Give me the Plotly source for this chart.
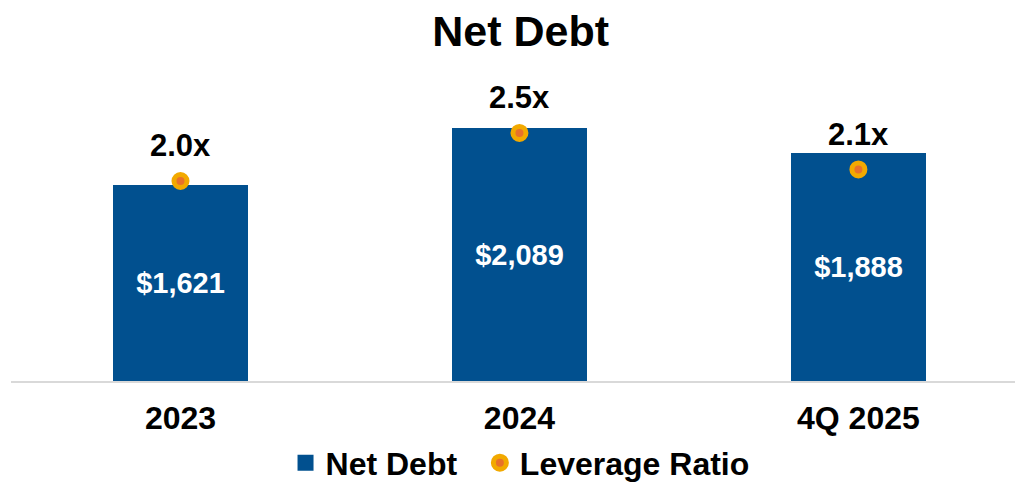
import plotly.graph_objects as go

# Net debt ($ millions) and leverage ratio by period
periods = ["2023", "2024", "4Q 2025"]
net_debt = [1621, 2089, 1888]
leverage = [2.0, 2.5, 2.12]
leverage_labels = ["2.0x", "2.5x", "2.1x"]

FONT = "Liberation Sans, Arial, sans-serif"
BAR_BLUE = "#01508F"
DOT_ORANGE = "#E8712A"
DOT_GOLD = "#F2A900"
NBSP = "\u00a0"

fig = go.Figure()

fig.add_trace(go.Bar(
    x=periods,
    y=net_debt,
    name="Net Debt",
    showlegend=False,
    legendgroup="debt",
    marker=dict(color=BAR_BLUE, line=dict(width=0)),
    width=0.398,
    text=[f"${v:,.0f}" for v in net_debt],
    textposition="inside",
    insidetextanchor="middle",
    textfont=dict(family=FONT, size=29, color="white", weight="bold"),
    yaxis="y",
))

# Legend key for the bars: a larger square swatch
fig.add_trace(go.Scatter(
    x=[None], y=[None],
    name="Net Debt" + NBSP * 2,
    legendgroup="debt",
    mode="markers",
    marker=dict(symbol="square", size=16, color=BAR_BLUE),
    yaxis="y",
))

fig.add_trace(go.Scatter(
    x=periods,
    y=leverage,
    name="Leverage Ratio",
    mode="markers",
    marker=dict(size=13, color=DOT_ORANGE, line=dict(color=DOT_GOLD, width=5)),
    yaxis="y2",
    cliponaxis=False,
))

# Leverage labels sit above each marker (x given as category index)
for i, (v, lab) in enumerate(zip(leverage, leverage_labels)):
    fig.add_annotation(
        x=i, y=v, xref="x", yref="y2",
        text=f"<b>{lab}</b>",
        showarrow=False,
        yshift=35,
        font=dict(family=FONT, size=31, color="black"),
    )

fig.update_layout(
    width=1015,
    height=482,
    margin=dict(l=11, r=0, t=60, b=101, autoexpand=False),
    paper_bgcolor="white",
    plot_bgcolor="white",
    font=dict(family=FONT, color="black"),
    title=dict(
        text="<b>Net Debt</b>",
        x=0.513, xanchor="center",
        y=1 - 31 / 482, yanchor="middle",
        font=dict(family=FONT, size=43, color="black"),
    ),
    xaxis=dict(
        type="category",
        range=[-0.5, 2.462],
        showgrid=False,
        showline=True,
        linecolor="#D9D9D9",
        linewidth=2,
        ticks="",
        automargin=False,
        ticklabelstandoff=8,
        tickfont=dict(family=FONT, size=32, color="black", weight="bold"),
    ),
    yaxis=dict(
        range=[0, 2655],
        visible=False,
        showgrid=False,
        automargin=False,
    ),
    yaxis2=dict(
        range=[-0.083, 3.26],
        overlaying="y",
        side="right",
        visible=False,
        showgrid=False,
        automargin=False,
    ),
    showlegend=True,
    legend=dict(
        orientation="h",
        x=0.507, xanchor="center",
        y=-0.255, yanchor="middle",
        font=dict(family=FONT, size=32, color="black", weight="bold"),
        bgcolor="rgba(0,0,0,0)",
    ),
    bargap=0,
)

fig.write_html("out.html")
